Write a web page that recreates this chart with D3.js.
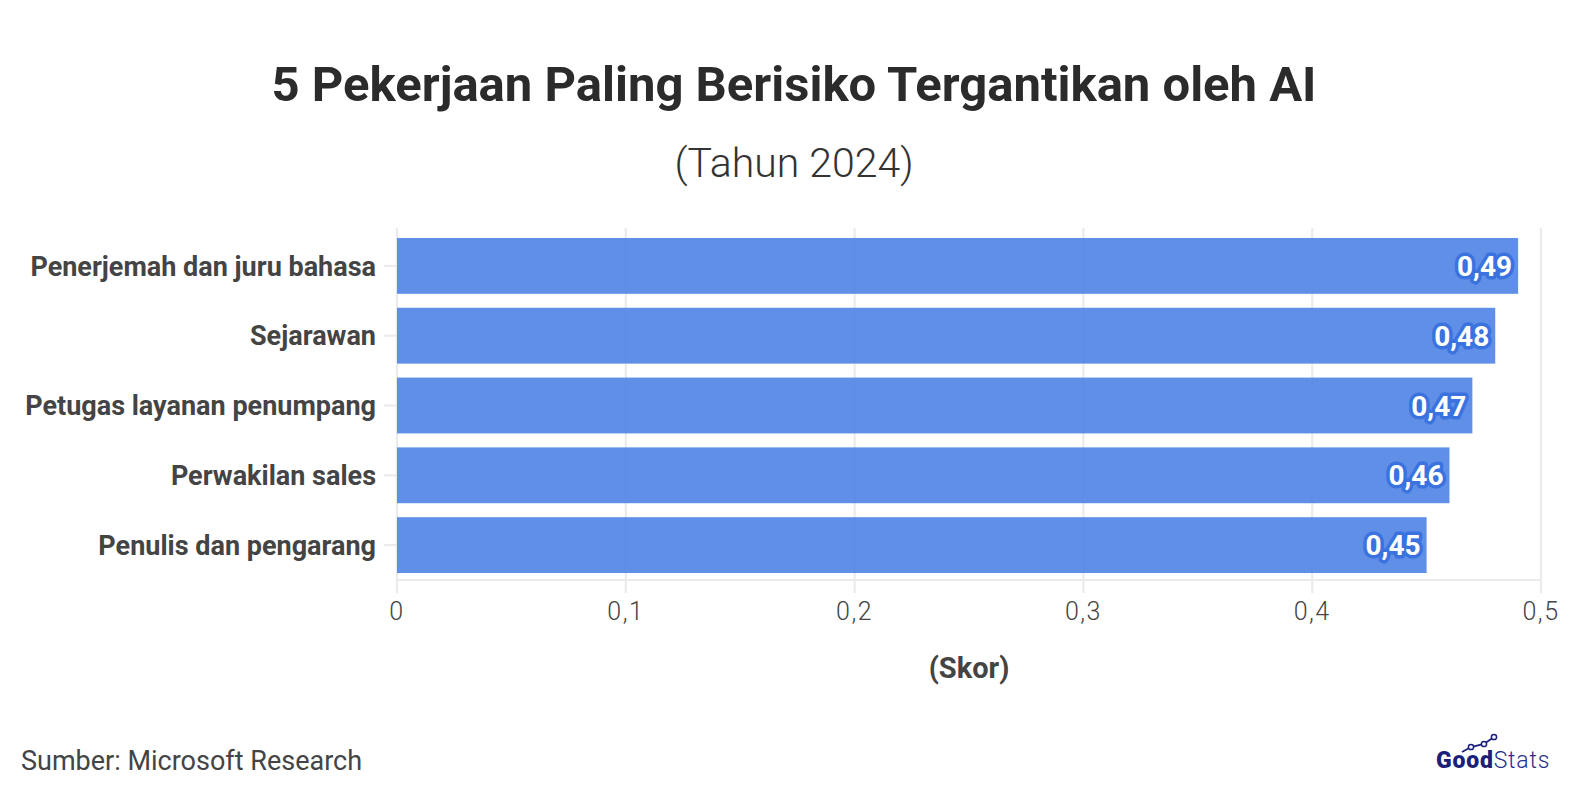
<!DOCTYPE html>
<html><head><meta charset="utf-8">
<script src="https://cdn.jsdelivr.net/npm/d3@7"></script>
<style>body{margin:0;background:#fff;}svg{display:block;}</style>
</head><body>
<script>
const categories = ["Penerjemah dan juru bahasa","Sejarawan","Petugas layanan penumpang","Perwakilan sales","Penulis dan pengarang"];
const values = [0.49,0.48,0.47,0.46,0.45];
const xTicks = [0,0.1,0.2,0.3,0.4,0.5];
const title = "5 Pekerjaan Paling Berisiko Tergantikan oleh AI";
const subtitle = "(Tahun 2024)";
const xTitle = "(Skor)";
const source = "Sumber: Microsoft Research";

const W = 1588, H = 810;
const FONT = "Roboto, 'Noto Sans', sans-serif";
const svg = d3.select("body").append("svg").attr("width", W).attr("height", H).style("font-family", FONT);

const x = d3.scaleLinear().domain([0,0.5]).range([397,1541]);
const y = d3.scaleBand().domain(categories).range([231,580]).paddingInner(0.2).paddingOuter(0.1);

// gridlines
svg.append("g").selectAll("line").data(xTicks).join("line")
  .attr("x1", d=>x(d)).attr("x2", d=>x(d)).attr("y1", 228).attr("y2", 593)
  .attr("stroke", "#ebebeb").attr("stroke-width", 2.2);
// axis line
svg.append("line").attr("x1", x(0)).attr("x2", x(0.5)).attr("y1", 580).attr("y2", 580)
  .attr("stroke", "#ebebeb").attr("stroke-width", 2.2);
// y ticks
svg.append("g").selectAll("line").data(categories).join("line")
  .attr("x1", 384).attr("x2", x(0)).attr("y1", d=>y(d)+y.bandwidth()/2).attr("y2", d=>y(d)+y.bandwidth()/2)
  .attr("stroke", "#ebebeb").attr("stroke-width", 2.2);

// bars
svg.append("g").selectAll("rect").data(values).join("rect")
  .attr("x", x(0)).attr("y", (d,i)=>y(categories[i]))
  .attr("width", d=>x(d)-x(0)).attr("height", y.bandwidth())
  .attr("fill", "#4f83e4").attr("fill-opacity", 0.9);

// value labels
const vfmt = d=>d.toFixed(2).replace(".", ",");
const lg = svg.append("g").attr("font-weight", 700).attr("font-size", 28).attr("text-anchor", "end");
lg.selectAll("text.halo").data(values).join("text").attr("class","halo")
  .attr("x", d=>x(d)-6).attr("y", (d,i)=>y(categories[i])+y.bandwidth()/2).attr("dy","0.36em")
  .attr("fill", "#3a72df").attr("stroke", "#3a72df").attr("stroke-width", 7).attr("stroke-linejoin","round")
  .text(vfmt);
lg.selectAll("text.lab").data(values).join("text").attr("class","lab")
  .attr("x", d=>x(d)-6).attr("y", (d,i)=>y(categories[i])+y.bandwidth()/2).attr("dy","0.36em")
  .attr("fill", "#fff").text(vfmt);

// category labels
svg.append("g").selectAll("text").data(categories).join("text")
  .attr("x", 376).attr("y", d=>y(d)+y.bandwidth()/2).attr("dy","0.36em")
  .attr("text-anchor","end").attr("font-size", 27).attr("font-weight", 700).attr("fill", "#444")
  .text(d=>d);

// x tick labels
svg.append("g").selectAll("text").data(xTicks).join("text")
  .attr("x", d=>x(d)).attr("y", 611).attr("dy","0.36em").attr("text-anchor","middle")
  .attr("font-size", 25).attr("font-weight", 300).attr("fill", "#444").attr("letter-spacing", 1.5)
  .text(d=>d===0?"0":String(d).replace(".", ","));

// x title
svg.append("text").attr("x", 969).attr("y", 668).attr("dy","0.36em").attr("text-anchor","middle")
  .attr("font-size", 29).attr("font-weight", 700).attr("fill", "#444").text(xTitle);

// title
svg.append("text").attr("x", 794).attr("y", 101).attr("text-anchor","middle")
  .attr("font-size", 49).attr("font-weight", 700).attr("fill", "#2b2b2b").text(title);
svg.append("text").attr("x", 794).attr("y", 177).attr("text-anchor","middle")
  .attr("font-size", 41).attr("font-weight", 300).attr("fill", "#333").text(subtitle);

// source
svg.append("text").attr("x", 21).attr("y", 770).attr("font-size", 27).attr("font-weight", 400)
  .attr("fill", "#444").text(source);

// logo
const logo = svg.append("g");
const lt = logo.append("text").attr("x", 1436).attr("y", 768).attr("font-size", 23).attr("fill", "#1b1f7a")
  .attr("letter-spacing", 0.8);
lt.append("tspan").attr("font-weight", 900).text("Good");
lt.append("tspan").attr("font-weight", 300).attr("fill","#2a2f8a").text("Stats");
const pts = [[1462,752],[1471,747],[1484,744],[1494,737]];
logo.append("path").attr("d", d3.line()(pts)).attr("stroke","#1b1f7a").attr("stroke-width",1.8).attr("fill","none");
logo.selectAll("circle").data(pts.slice(1)).join("circle").attr("cx",d=>d[0]).attr("cy",d=>d[1]).attr("r",2.6)
  .attr("fill","#fff").attr("stroke","#1b1f7a").attr("stroke-width",1.5);
</script>
</body></html>
